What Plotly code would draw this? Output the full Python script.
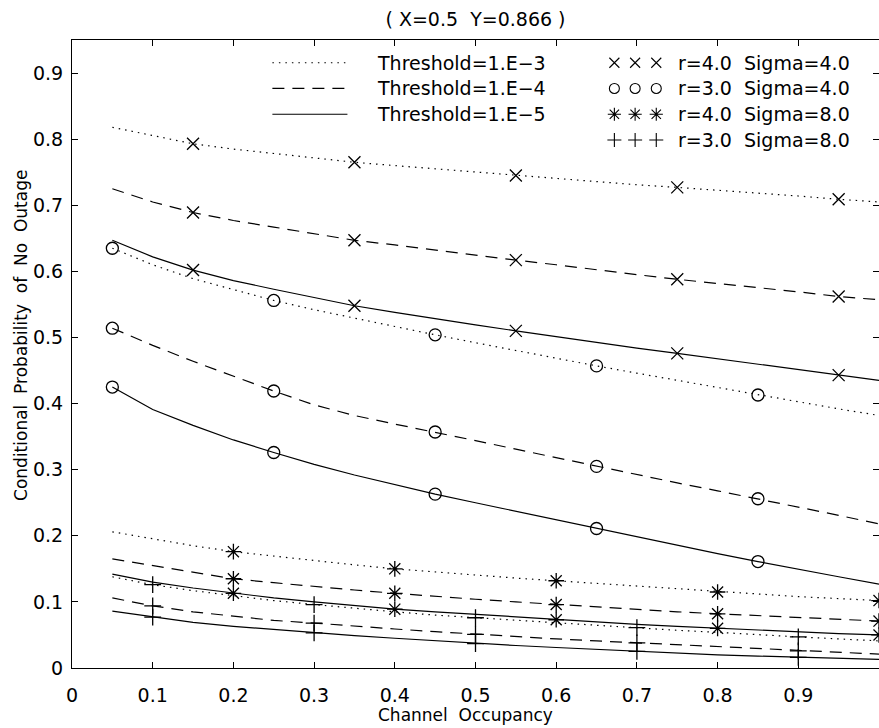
import plotly.graph_objects as go

# Channel occupancy grid shared by every curve
occupancy = [0.05, 0.10, 0.15, 0.20, 0.25, 0.30, 0.35, 0.40, 0.45, 0.50,
             0.55, 0.60, 0.65, 0.70, 0.75, 0.80, 0.85, 0.90, 0.95, 1.00]

# r=4.0, Sigma=4.0
r4_s4_t3 = [0.818, 0.805, 0.793, 0.785, 0.778, 0.771, 0.765, 0.760, 0.755, 0.750,
            0.745, 0.740, 0.736, 0.731, 0.727, 0.723, 0.718, 0.714, 0.709, 0.705]
r4_s4_t4 = [0.725, 0.705, 0.689, 0.677, 0.667, 0.657, 0.647, 0.640, 0.632, 0.624,
            0.617, 0.610, 0.602, 0.595, 0.588, 0.582, 0.575, 0.569, 0.562, 0.557]
r4_s4_t5 = [0.647, 0.622, 0.602, 0.586, 0.573, 0.560, 0.548, 0.538, 0.528, 0.519,
            0.510, 0.501, 0.493, 0.484, 0.476, 0.468, 0.460, 0.451, 0.443, 0.435]

# r=3.0, Sigma=4.0
r3_s4_t3 = [0.635, 0.610, 0.589, 0.572, 0.556, 0.542, 0.529, 0.516, 0.504, 0.492,
            0.480, 0.468, 0.457, 0.446, 0.435, 0.424, 0.413, 0.402, 0.392, 0.382]
r3_s4_t4 = [0.514, 0.488, 0.464, 0.441, 0.419, 0.398, 0.382, 0.369, 0.357, 0.344,
            0.331, 0.318, 0.305, 0.292, 0.280, 0.268, 0.256, 0.243, 0.231, 0.218]
r3_s4_t5 = [0.425, 0.391, 0.367, 0.345, 0.326, 0.308, 0.292, 0.277, 0.263, 0.250,
            0.237, 0.224, 0.211, 0.198, 0.186, 0.173, 0.161, 0.149, 0.138, 0.127]

# r=4.0, Sigma=8.0
r4_s8_t3 = [0.206, 0.195, 0.185, 0.176, 0.169, 0.162, 0.156, 0.150, 0.145, 0.141,
            0.136, 0.132, 0.128, 0.124, 0.119, 0.115, 0.112, 0.108, 0.105, 0.102]
r4_s8_t4 = [0.165, 0.155, 0.144, 0.135, 0.129, 0.123, 0.118, 0.113, 0.108, 0.104,
            0.100, 0.096, 0.092, 0.089, 0.085, 0.082, 0.079, 0.076, 0.073, 0.071]
r4_s8_t5 = [0.142, 0.130, 0.121, 0.113, 0.106, 0.100, 0.094, 0.089, 0.085, 0.081,
            0.077, 0.073, 0.070, 0.066, 0.063, 0.060, 0.057, 0.055, 0.052, 0.050]

# r=3.0, Sigma=8.0
r3_s8_t3 = [0.138, 0.126, 0.117, 0.109, 0.102, 0.096, 0.090, 0.085, 0.080, 0.076,
            0.072, 0.068, 0.064, 0.061, 0.057, 0.054, 0.050, 0.047, 0.044, 0.041]
r3_s8_t4 = [0.106, 0.094, 0.085, 0.078, 0.072, 0.068, 0.063, 0.059, 0.055, 0.051,
            0.048, 0.044, 0.041, 0.038, 0.035, 0.032, 0.029, 0.026, 0.023, 0.021]
r3_s8_t5 = [0.086, 0.077, 0.069, 0.063, 0.058, 0.053, 0.049, 0.045, 0.041, 0.037,
            0.034, 0.031, 0.028, 0.025, 0.022, 0.020, 0.018, 0.016, 0.014, 0.013]

threshold_labels = ["Threshold=1.E\u22123", "Threshold=1.E\u22124", "Threshold=1.E\u22125"]
case_labels = ["r=4.0  Sigma=4.0", "r=3.0  Sigma=4.0", "r=4.0  Sigma=8.0", "r=3.0  Sigma=8.0"]

x_ticks = [0, 0.1, 0.2, 0.3, 0.4, 0.5, 0.6, 0.7, 0.8, 0.9, 1.0]
x_tick_text = ["0", "0.1", "0.2", "0.3", "0.4", "0.5", "0.6", "0.7", "0.8", "0.9", "1"]
y_ticks = [0, 0.1, 0.2, 0.3, 0.4, 0.5, 0.6, 0.7, 0.8, 0.9]
y_tick_text = ["0", "0.1", "0.2", "0.3", "0.4", "0.5", "0.6", "0.7", "0.8", "0.9"]

# line style per threshold
DOT = "1.5px,5px"
DASH = "12px,8px"
dashes = [DOT, DASH, "solid"]

# marker style per case: symbol, size, index of first marked point (every 4th point marked)
cases = [
    dict(curves=[r4_s4_t3, r4_s4_t4, r4_s4_t5], symbol="x-thin-open", size=12, start=2),
    dict(curves=[r3_s4_t3, r3_s4_t4, r3_s4_t5], symbol="circle-open", size=12, start=0),
    dict(curves=[r4_s8_t3, r4_s8_t4, r4_s8_t5], symbol="asterisk-open", size=13, start=3),
    dict(curves=[r3_s8_t3, r3_s8_t4, r3_s8_t5], symbol="cross-thin-open", size=12, start=1),
]

FONT = "DejaVu Sans"
fig = go.Figure()

for case in cases:
    for curve, dash in zip(case["curves"], dashes):
        fig.add_trace(go.Scatter(
            x=occupancy, y=curve, mode="lines",
            line=dict(color="black", width=1.2, dash=dash),
            showlegend=False, hoverinfo="skip"))
        fig.add_trace(go.Scatter(
            x=occupancy[case["start"]::4], y=curve[case["start"]::4], mode="markers",
            marker=dict(symbol=case["symbol"], size=case["size"], color="black",
                        line=dict(color="black", width=1.3)),
            showlegend=False, hoverinfo="skip"))

# ---- hand-built two-column key ----
row_y = [0.9156, 0.8767, 0.8377, 0.7988]          # in y-axis units
line_x0, line_x1 = 0.2483, 0.3413
text_x_left = 0.3758
sample_x = [0.6721, 0.6978, 0.7240]
text_x_right = 0.7487

shapes = []
annotations = []
for i, label in enumerate(threshold_labels):
    shapes.append(dict(type="line", xref="x", yref="y", x0=line_x0, x1=line_x1,
                       y0=row_y[i], y1=row_y[i],
                       line=dict(color="black", width=1.2, dash=dashes[i])))
    annotations.append(dict(text=label, xref="x", yref="y", x=text_x_left, y=row_y[i],
                            xanchor="left", yanchor="middle", showarrow=False,
                            font=dict(family=FONT, size=19, color="black")))
for i, (label, case) in enumerate(zip(case_labels, cases)):
    fig.add_trace(go.Scatter(
        x=sample_x, y=[row_y[i]] * 3, mode="markers", yaxis="y2",
        marker=dict(symbol=case["symbol"], size=case["size"] - 2, color="black",
                    line=dict(color="black", width=1.1)),
        showlegend=False, hoverinfo="skip"))
    annotations.append(dict(text=label, xref="x", yref="y", x=text_x_right, y=row_y[i],
                            xanchor="left", yanchor="middle", showarrow=False,
                            font=dict(family=FONT, size=19, color="black")))

# axis titles
annotations.append(dict(text="Channel\u00a0 Occupancy", xref="paper", yref="paper",
                        x=0.487, y=-0.075, xanchor="center", yanchor="middle",
                        showarrow=False, font=dict(family=FONT, size=17, color="black")))
annotations.append(dict(text="Conditional\u00a0 Probability\u00a0 of\u00a0 No\u00a0 Outage",
                        xref="paper", yref="paper", x=-0.063, y=0.529, textangle=-90,
                        xanchor="center", yanchor="middle", showarrow=False,
                        font=dict(family=FONT, size=17, color="black")))

axis_font = dict(family=FONT, size=19, color="black")
fig.update_layout(
    width=879, height=728,
    margin=dict(l=72, r=0, t=40, b=60),
    paper_bgcolor="white", plot_bgcolor="white",
    title=dict(text="( X=0.5  Y=0.866 )", x=0.5, xref="paper", xanchor="center",
               y=1 - 19 / 728, yref="container", yanchor="middle",
               font=dict(family=FONT, size=19, color="black")),
    xaxis=dict(range=[0, 1], tickvals=x_ticks, ticktext=x_tick_text,
               ticks="inside", ticklen=6, tickwidth=1, tickcolor="black",
               showline=True, linecolor="black", linewidth=1.2, mirror="ticks",
               showgrid=False, zeroline=False, tickfont=axis_font,
               ticklabelstandoff=10),
    yaxis=dict(range=[0, 0.95], tickvals=y_ticks, ticktext=y_tick_text,
               ticks="inside", ticklen=6, tickwidth=1, tickcolor="black",
               showline=True, linecolor="black", linewidth=1.2, mirror=False,
               showgrid=False, zeroline=False, tickfont=axis_font,
               ticklabelstandoff=4),
    yaxis2=dict(range=[0, 0.95], overlaying="y", side="right", tickvals=y_ticks,
                ticks="inside", ticklen=6, tickwidth=1, tickcolor="black",
                showticklabels=False, showline=False, showgrid=False, zeroline=False),
    shapes=shapes,
    annotations=annotations,
)

fig.write_html("out.html")
